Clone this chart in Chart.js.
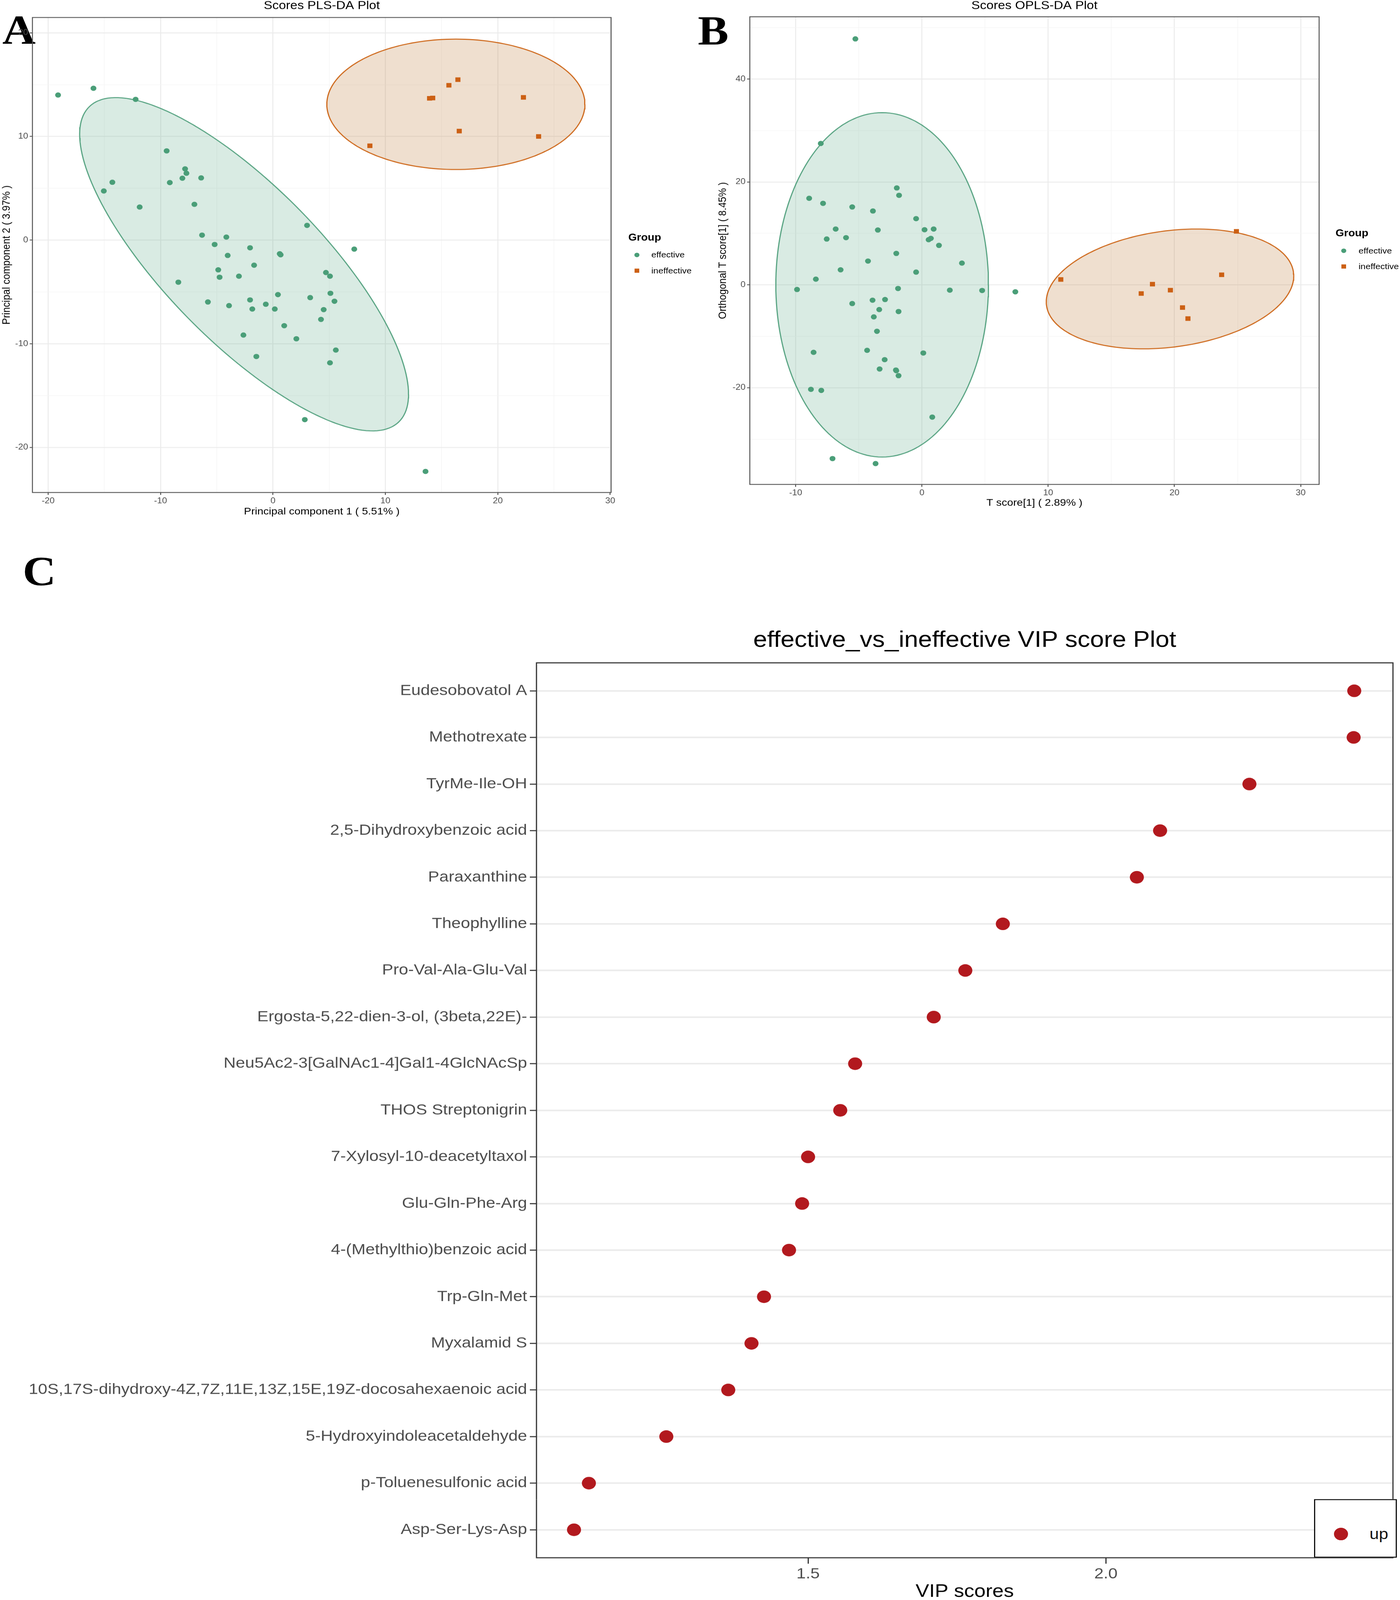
<!DOCTYPE html>
<html>
<head>
<meta charset="utf-8">
<script src="https://cdn.jsdelivr.net/npm/chart.js@4.4.1/dist/chart.umd.min.js"></script>
<style>
  html, body { margin: 0; padding: 0; background: #fff; overflow: hidden; }
  #page { position: relative; width: 3583px; height: 4581px; overflow: hidden; transform-origin: 0 0; font-family: "Liberation Sans", Arial, Helvetica, sans-serif; }
  canvas { position: absolute; }
  .tag { position: absolute; font-family: "Liberation Serif", "Times New Roman", serif; font-weight: bold; font-size: 118px; line-height: 1; color: #000; }
  .lg { position: absolute; line-height: 1; transform: translateY(-50%); white-space: nowrap; }
  .lg.title { font-weight: bold; font-size: 28px; color: #000; }
  .lg.item { font-size: 23px; color: #000; }
  .mk { position: absolute; transform: translate(-50%, -50%); }
  #vipLegend { position: absolute; left: 3363px; top: 4292px; width: 206px; height: 162px; background: #fff; border: 3px solid #111; }
</style>
</head>
<body>
<div id="page">
  <div class="tag" style="left:6px; top:27px;">A</div>
  <div class="tag" style="left:1786px; top:29px;">B</div>
  <div class="tag" style="left:58px; top:1577px;">C</div>

  <canvas id="plsChart" width="1785" height="1482" style="left:0; top:0;"></canvas>
  <canvas id="oplsChart" width="1798" height="1457" style="left:1785px; top:0;"></canvas>
  <canvas id="vipChart" width="3583" height="2839" style="left:0; top:1750px;"></canvas>

  <div id="legends"></div>
  <div id="vipLegend">
    <div class="mk" style="left:66px; top:97px; width:36px; height:36px; border-radius:50%; background:#B2191E;"></div>
    <div class="lg" style="left:139px; top:97px; font-size:43px; color:#111;">up</div>
  </div>
</div>

<script>
// the figure is laid out at 3583x4581; squeeze it vertically if the window is shorter
const page = document.getElementById("page");
const fit = Math.min(1, window.innerHeight / 4581);
if (fit < 1) page.style.transform = `scaleY(${fit})`;

// ---- A: PLS-DA scores ----
const plsEffective = [
  [-19.12, 14.0], [-15.97, 14.65], [-12.22, 13.58], [-9.46, 8.61], [-14.29, 5.58],
  [-15.05, 4.74], [-11.86, 3.19], [-9.18, 5.55], [-7.82, 6.87], [-7.7, 6.45],
  [-8.06, 5.97], [-6.39, 6.0], [-6.99, 3.45], [-6.31, 0.48], [-5.19, -0.42],
  [-4.15, 0.29], [-4.03, -1.48], [-2.04, -0.74], [0.6, -1.32], [0.68, -1.42],
  [-1.68, -2.42], [-4.87, -2.87], [-4.75, -3.58], [-3.03, -3.48], [-8.42, -4.06],
  [3.03, 1.42], [7.23, -0.87], [4.71, -3.13], [5.07, -3.48], [5.11, -5.13],
  [5.47, -5.9], [3.31, -5.55], [0.44, -5.26], [-2.04, -5.77], [-5.79, -5.97],
  [-3.91, -6.32], [-1.84, -6.65], [-0.64, -6.19], [0.16, -6.65], [1.0, -8.26],
  [4.51, -6.71], [4.27, -7.65], [-2.63, -9.16], [2.08, -9.52], [5.59, -10.61],
  [-1.48, -11.23], [5.07, -11.84], [2.83, -17.32], [13.57, -22.32]
];
const plsIneffective = [
  [16.45, 15.48], [15.65, 14.94], [13.93, 13.68], [14.21, 13.71],
  [22.28, 13.77], [16.57, 10.52], [23.63, 10.0], [8.62, 9.1]
];
// ellipse: centre x, centre y, half-width, half-height, tilt (correlation)
const plsEllipseEffective = [-2.57, -2.33, 14.63, 16.08, -0.78];
const plsEllipseIneffective = [16.27, 13.1, 11.48, 6.29, 0];

// ---- B: OPLS-DA scores ----
const oplsEffective = [
  [-5.27, 47.8], [-8.01, 27.47], [-8.93, 16.82], [-7.83, 15.84], [-5.52, 15.13],
  [-3.88, 14.35], [-1.99, 18.83], [-1.81, 17.4], [-0.46, 12.86], [-6.83, 10.84],
  [-7.54, 8.9], [-6.01, 9.16], [-3.49, 10.65], [0.21, 10.71], [0.93, 10.84],
  [0.53, 8.77], [0.71, 9.03], [1.35, 7.66], [-2.03, 6.1], [-4.27, 4.61],
  [3.17, 4.22], [-6.44, 2.92], [-0.46, 2.47], [-8.4, 1.1], [-9.89, -0.91],
  [-1.89, -0.71], [2.21, -1.04], [4.77, -1.1], [7.4, -1.36], [-3.91, -2.99],
  [-2.92, -2.86], [-5.52, -3.64], [-3.38, -4.81], [-1.85, -5.19], [-3.81, -6.23],
  [-3.56, -9.03], [-8.58, -13.12], [-4.34, -12.73], [0.11, -13.25], [-2.95, -14.55],
  [-3.35, -16.36], [-2.06, -16.56], [-2.03, -16.69], [-1.85, -17.66], [-8.79, -20.32],
  [-7.97, -20.52], [0.82, -25.71], [-7.08, -33.77], [-3.67, -34.74]
];
const oplsIneffective = [
  [24.91, 10.39], [11.0, 1.04], [23.74, 1.95], [18.26, 0.13],
  [17.37, -1.69], [19.68, -1.04], [20.64, -4.42], [21.07, -6.56]
];
const oplsEllipseEffective = [-3.15, 0, 8.42, 33.47, 0];
const oplsEllipseIneffective = [19.65, -0.8, 9.8, 11.65, 0.215];

// ---- C: VIP scores ----
const vipNames = [
  "Eudesobovatol A", "Methotrexate", "TyrMe-Ile-OH", "2,5-Dihydroxybenzoic acid",
  "Paraxanthine", "Theophylline", "Pro-Val-Ala-Glu-Val", "Ergosta-5,22-dien-3-ol, (3beta,22E)-",
  "Neu5Ac2-3[GalNAc1-4]Gal1-4GlcNAcSp", "THOS Streptonigrin", "7-Xylosyl-10-deacetyltaxol",
  "Glu-Gln-Phe-Arg", "4-(Methylthio)benzoic acid", "Trp-Gln-Met", "Myxalamid S",
  "10S,17S-dihydroxy-4Z,7Z,11E,13Z,15E,19Z-docosahexaenoic acid",
  "5-Hydroxyindoleacetaldehyde", "p-Toluenesulfonic acid", "Asp-Ser-Lys-Asp"
];
const vipScores = [
  2.417, 2.416, 2.241, 2.091, 2.052, 1.827, 1.764, 1.711, 1.579, 1.554,
  1.500, 1.490, 1.468, 1.426, 1.405, 1.366, 1.262, 1.132, 1.107
];
const vipTicks = [1.5, 2.0];

const groups = ["effective", "ineffective"];
const green = "#4A9E78";
const orange = "#CC6014";
const grey30 = "#4D4D4D";

Chart.defaults.font.family = '"Liberation Sans", Arial, Helvetica, sans-serif';
Chart.defaults.animation = false;

// border round the plotting panel, like theme_bw
const frame = {
  id: "frame",
  afterDatasetsDraw(chart, args, opts) {
    const { ctx, chartArea: a } = chart;
    ctx.save();
    ctx.strokeStyle = opts.color;
    ctx.lineWidth = opts.width;
    ctx.strokeRect(a.left, a.top, a.right - a.left, a.bottom - a.top);
    ctx.restore();
  }
};

function ellipsePoints(e) {
  const [cx, cy, hx, hy, r] = e;
  const s = Math.sqrt(1 - r * r);
  const pts = [];
  for (let i = 0; i <= 180; i++) {
    const t = i / 180 * 2 * Math.PI;
    pts.push({ x: cx + hx * Math.cos(t), y: cy + hy * (r * Math.cos(t) + s * Math.sin(t)) });
  }
  return pts;
}

const toXY = arr => arr.map(p => ({ x: p[0], y: p[1] }));

function scoreAxis(min, max, step, major, title, size, titlePad) {
  const isMajor = v => Math.abs(v % major) < 1e-9;
  return {
    type: "linear", min, max,
    ticks: {
      stepSize: step, includeBounds: false, color: grey30, padding: 4,
      font: { size: 23 },
      callback: v => isMajor(v) ? v : ""
    },
    grid: {
      color: c => isMajor(c.tick.value) ? "#EBEBEB" : "#F5F5F5",
      lineWidth: c => isMajor(c.tick.value) ? 2.5 : 1.5,
      tickColor: c => isMajor(c.tick.value) ? "#333" : "rgba(0,0,0,0)",
      tickWidth: 2, tickLength: 7
    },
    border: { display: false },
    title: { display: true, text: title, color: "#000", font: { size: 28 }, padding: titlePad },
    afterFit: s => { if (s.isHorizontal()) s.height = size; else s.width = size; }
  };
}

function scoreChart(id, d, opt) {
  return new Chart(document.getElementById(id), {
    type: "scatter",
    data: {
      datasets: [
        { label: groups[0], data: toXY(d.eff), backgroundColor: green, borderWidth: 0, pointRadius: 7.5, order: 0 },
        { label: groups[1], data: toXY(d.ineff), backgroundColor: orange, borderWidth: 0, pointStyle: "rect", pointRadius: 9.2, order: 0 },
        { data: ellipsePoints(d.ellEff), showLine: true, fill: "shape", pointRadius: 0, borderColor: "#5AA584", borderWidth: 3, backgroundColor: "rgba(103,175,143,0.25)", order: 2 },
        { data: ellipsePoints(d.ellIneff), showLine: true, fill: "shape", pointRadius: 0, borderColor: "#CF6B1F", borderWidth: 3, backgroundColor: "rgba(191,127,63,0.25)", order: 2 }
      ]
    },
    options: {
      responsive: false,
      events: [],
      layout: { padding: opt.pad },
      plugins: {
        legend: { display: false },
        tooltip: { enabled: false },
        title: {
          display: true, text: opt.title, color: "#000", fullSize: false,
          font: { size: 33, weight: "normal", lineHeight: 1 },
          padding: { top: 0, bottom: opt.titleGap }
        },
        frame: { color: "#555", width: 2.5 }
      },
      scales: {
        x: scoreAxis(opt.x[0], opt.x[1], opt.x[2], opt.x[3], opt.xTitle, opt.xSize, 0),
        y: scoreAxis(opt.y[0], opt.y[1], opt.y[2], opt.y[3], opt.yTitle, opt.ySize, { top: opt.yTitlePad })
      }
    },
    plugins: [frame]
  });
}

scoreChart("plsChart",
  { eff: plsEffective, ineff: plsIneffective, ellEff: plsEllipseEffective, ellIneff: plsEllipseIneffective },
  {
    title: "Scores PLS-DA Plot", titleGap: 17,
    pad: { left: 0, right: 221, top: 0, bottom: 0 },
    x: [-21.4, 30.08, 5, 10], xTitle: "Principal component 1 ( 5.51% )", xSize: 72,
    y: [-24.35, 21.48, 5, 10], yTitle: "Principal component 2 ( 3.97% )", ySize: 83, yTitlePad: 0
  });

scoreChart("oplsChart",
  { eff: oplsEffective, ineff: oplsIneffective, ellEff: oplsEllipseEffective, ellIneff: oplsEllipseIneffective },
  {
    title: "Scores OPLS-DA Plot", titleGap: 15,
    pad: { left: 0, right: 207, top: 0, bottom: 0 },
    x: [-13.63, 31.46, 5, 10], xTitle: "T score[1] ( 2.89% )", xSize: 70,
    y: [-38.8, 52.1, 10, 20], yTitle: "Orthogonal T score[1] ( 8.45% )", ySize: 134, yTitlePad: 48.6
  });

// legends for the two score plots
const legendSpots = [
  { x: 1608, title: 680, rows: [730, 775], mark: 1630, text: 1667 },
  { x: 3418, title: 668, rows: [718, 763], mark: 3439, text: 3477 }
];
const lgBox = document.getElementById("legends");
legendSpots.forEach(l => {
  lgBox.innerHTML += `<div class="lg title" style="left:${l.x}px; top:${l.title}px;">Group</div>`;
  groups.forEach((g, i) => {
    const shape = i === 0
      ? `width:13px; height:13px; border-radius:50%; background:${green};`
      : `width:12px; height:12px; background:${orange};`;
    lgBox.innerHTML += `<div class="mk" style="left:${l.mark}px; top:${l.rows[i]}px; ${shape}"></div>`;
    lgBox.innerHTML += `<div class="lg item" style="left:${l.text}px; top:${l.rows[i]}px;">${g}</div>`;
  });
});

// ---- C chart ----
new Chart(document.getElementById("vipChart"), {
  type: "scatter",
  data: {
    datasets: [{
      label: "up",
      data: vipScores.map((v, i) => ({ x: v, y: i })),
      backgroundColor: "#B2191E",
      borderWidth: 0,
      pointRadius: 18
    }]
  },
  options: {
    responsive: false,
    events: [],
    layout: { padding: { left: 0, right: 8, top: 0, bottom: 0 } },
    plugins: {
      legend: { display: false },
      tooltip: { enabled: false },
      title: {
        display: true, text: "effective_vs_ineffective VIP score Plot", color: "#000", fullSize: false,
        font: { size: 64, weight: "normal" },
        padding: { top: 46, bottom: 25 }
      },
      frame: { color: "#333", width: 3 }
    },
    scales: {
      x: {
        type: "linear", min: 1.044, max: 2.482,
        afterBuildTicks: s => { s.ticks = vipTicks.map(v => ({ value: v })); },
        ticks: { color: grey30, font: { size: 43 }, padding: 4, callback: v => v.toFixed(1) },
        grid: { drawOnChartArea: false, tickColor: "#333", tickWidth: 3, tickLength: 17 },
        border: { display: false },
        title: { display: true, text: "VIP scores", color: "#000", font: { size: 52 }, padding: 0 },
        afterFit: s => { s.height = 129; }
      },
      y: {
        type: "linear", min: -0.6, max: vipNames.length - 0.4, reverse: true,
        afterBuildTicks: s => { s.ticks = vipNames.map((n, i) => ({ value: i })); },
        ticks: { color: grey30, font: { size: 43 }, padding: 7, autoSkip: false, callback: v => vipNames[v] },
        grid: { color: "#EBEBEB", lineWidth: 4.5, tickColor: "#333", tickWidth: 3, tickLength: 17 },
        border: { display: false },
        afterFit: s => { s.width = 1373; }
      }
    }
  },
  plugins: [frame]
});
</script>
</body>
</html>
